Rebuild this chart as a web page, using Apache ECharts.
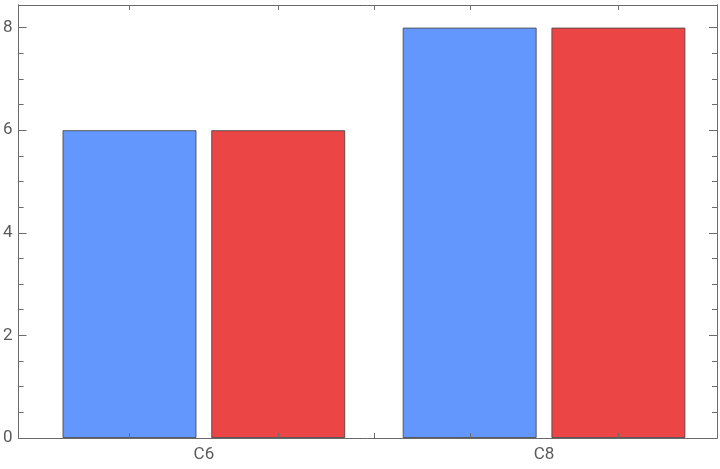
<!DOCTYPE html>
<html>
<head>
<meta charset="utf-8">
<script src="https://cdn.jsdelivr.net/npm/echarts@6/dist/echarts.min.js"></script>
<style>html,body{margin:0;padding:0;background:#fff}#c{width:720px;height:469px}</style>
</head>
<body>
<div id="c"></div>
<script>
// Data
var categories = ['C6', 'C8'];
var seriesA = [6, 8];   // blue
var seriesB = [6, 8];   // red
var yMajorTicks = [0, 2, 4, 6, 8];
var yMinorTicks = [0.5, 1, 1.5, 2.5, 3, 3.5, 4.5, 5, 5.5, 6.5, 7, 7.5];
var xTicks = [-0.218, 0.218, 0.5, 0.782, 1.218];

var frameColor = '#6a6a6a';
var labelColor = '#5a5a5a';

function yAxis(pos, ticks, len, showLabel) {
  return {
    type: 'value', position: pos, min: 0, max: 8.44, z: 10,
    axisLine: { show: true, onZero: false, lineStyle: { color: frameColor, width: 1 } },
    axisTick: { show: true, inside: true, length: len, customValues: ticks, lineStyle: { color: frameColor } },
    axisLabel: showLabel ? { show: true, customValues: yMajorTicks, color: labelColor, fontSize: 17, fontFamily: 'Roboto', margin: 6 } : { show: false },
    splitLine: { show: false }
  };
}
function xAxis(pos, showLabel) {
  return {
    type: 'value', position: pos, min: -0.5448, max: 1.5085, z: 10,
    axisLine: { show: true, onZero: false, lineStyle: { color: frameColor, width: 1 } },
    axisTick: { show: true, inside: true, length: 5, customValues: xTicks, lineStyle: { color: frameColor } },
    axisLabel: showLabel ? {
      show: true, customValues: categories.map(function (c, i) { return i; }),
      formatter: function (v) { return categories[Math.round(v)]; },
      color: labelColor, fontSize: 17, fontFamily: 'Roboto', margin: 8
    } : { show: false },
    splitLine: { show: false }
  };
}

var chart = echarts.init(document.getElementById('c'), null, { renderer: 'canvas' });
chart.setOption({
  animation: false,
  grid: { left: 16, right: 3, top: 5, bottom: 31, containLabel: false },
  xAxis: [xAxis('bottom', true), xAxis('top', false)],
  yAxis: [
    yAxis('left', yMajorTicks, 8, true),
    yAxis('left', yMinorTicks, 5, false),
    yAxis('right', yMajorTicks, 8, false),
    yAxis('right', yMinorTicks, 5, false)
  ],
  series: [
    {
      type: 'bar', xAxisIndex: 0, yAxisIndex: 0,
      data: seriesA.map(function (v, i) { return [i, v]; }),
      barWidth: 134, barGap: '11%',
      itemStyle: { color: '#6497fd', borderColor: 'rgba(70,70,70,0.85)', borderWidth: 1 }
    },
    {
      type: 'bar', xAxisIndex: 0, yAxisIndex: 0,
      data: seriesB.map(function (v, i) { return [i, v]; }),
      barWidth: 134, barGap: '11%',
      itemStyle: { color: '#ec4545', borderColor: 'rgba(70,70,70,0.85)', borderWidth: 1 }
    }
  ]
});
</script>
</body>
</html>
